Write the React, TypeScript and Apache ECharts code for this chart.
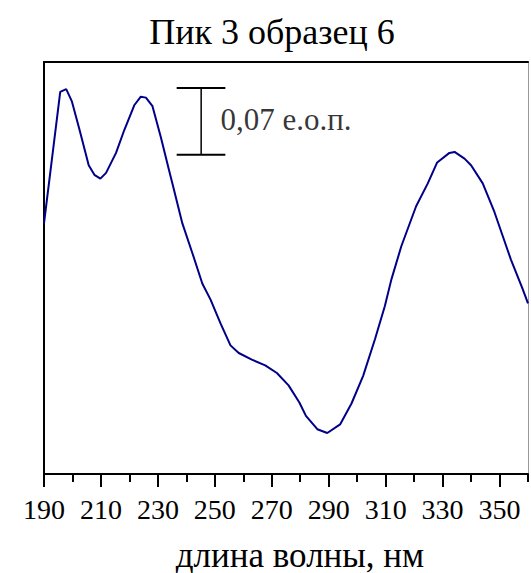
import React, { useEffect, useRef } from "react";
import * as echarts from "echarts";

const TITLE = "Пик 3 образец 6";
const X_NAME = "длина волны, нм";
const SCALE_TEXT = "0,07 е.о.п.";

const WAVELENGTH = [190, 195.7, 197.8, 199.8, 202.5, 205.7, 207.7, 209.8, 211.8, 215.3, 218.2, 221.7, 224.0, 225.8, 228.1, 231.0, 233.9, 235.1, 238.6, 242.1, 245.6, 248.5, 252.0, 255.5, 258.4, 263.0, 267.7, 271.8, 275.9, 279.7, 282.0, 286.0, 289.5, 294.0, 298.0, 302.1, 306.3, 309.7, 312.0, 315.5, 320.7, 324.8, 328.1, 332.4, 334.2, 337.7, 340.0, 344.1, 348.2, 354.0, 358.0, 360];
const ABSORBANCE = [0.263, 0.401, 0.404, 0.391, 0.361, 0.324, 0.314, 0.310, 0.316, 0.337, 0.361, 0.387, 0.396, 0.395, 0.386, 0.354, 0.319, 0.305, 0.263, 0.232, 0.200, 0.183, 0.158, 0.135, 0.127, 0.120, 0.114, 0.106, 0.093, 0.075, 0.061, 0.047, 0.043, 0.052, 0.074, 0.103, 0.142, 0.176, 0.204, 0.239, 0.281, 0.305, 0.327, 0.337, 0.338, 0.331, 0.324, 0.305, 0.275, 0.225, 0.195, 0.179];

const MAJOR_TICKS = [190, 210, 230, 250, 270, 290, 310, 330, 350];

const X_MIN = 190;
const X_MAX = 360;
const X_STEP = 10;
const Y_MIN = 0;
const Y_MAX = 0.4324;

// scale bar (0.07 units)
const SCALE_X = 245.2;
const SCALE_LOW = 0.335;
const SCALE_HIGH = 0.405;
const CAP_X0 = 236.6;
const CAP_X1 = 253.7;
const SCALE_LABEL_X = 252.0;
const SCALE_LABEL_Y = 0.372;

const FONT = "'Liberation Serif', 'Times New Roman', serif";

export default function App() {
  const ref = useRef<HTMLDivElement>(null);

  useEffect(() => {
    document.body.style.margin = "0";
    if (!ref.current) return;
    const chart = echarts.init(ref.current, undefined, { renderer: "svg" });
    const curve = WAVELENGTH.map((w, i) => [w, ABSORBANCE[i]]);
    const hidden = { show: false };
    chart.setOption({
      animation: false,
      backgroundColor: "#fff",
      grid: { left: 44, top: 62, right: 1, bottom: 99, show: false },
      xAxis: [
        {
          type: "value",
          min: X_MIN,
          max: X_MAX,
          interval: X_STEP,
          position: "bottom",
          axisLine: { show: true, onZero: false, lineStyle: { color: "#000", width: 2 } },
          axisTick: { show: true, inside: false, length: 8, lineStyle: { color: "#000", width: 2 } },
          axisLabel: {
            show: true,
            margin: 21,
            fontFamily: FONT,
            fontSize: 28,
            color: "#000",
            formatter: (v: number) => (MAJOR_TICKS.indexOf(v) >= 0 ? String(v) : ""),
          },
          splitLine: hidden,
        },
        {
          type: "value",
          min: X_MIN,
          max: X_MAX,
          interval: X_STEP,
          position: "bottom",
          axisLine: { show: false, onZero: false },
          axisTick: { show: true, inside: false, customValues: MAJOR_TICKS, length: 13, lineStyle: { color: "#000", width: 2 } },
          axisLabel: hidden,
          splitLine: hidden,
        },
        {
          type: "value",
          min: X_MIN,
          max: X_MAX,
          position: "top",
          axisLine: { show: true, onZero: false, lineStyle: { color: "#000", width: 2 } },
          axisTick: hidden,
          axisLabel: hidden,
          splitLine: hidden,
        },
      ],
      yAxis: [
        {
          type: "value",
          min: Y_MIN,
          max: Y_MAX,
          position: "left",
          axisLine: { show: true, onZero: false, lineStyle: { color: "#000", width: 2 } },
          axisTick: hidden,
          axisLabel: hidden,
          splitLine: hidden,
        },
        {
          type: "value",
          min: Y_MIN,
          max: Y_MAX,
          position: "right",
          axisLine: { show: true, onZero: false, lineStyle: { color: "#999", width: 1 } },
          axisTick: hidden,
          axisLabel: hidden,
          splitLine: hidden,
        },
      ],
      series: [
        {
          type: "line",
          data: curve,
          showSymbol: false,
          symbol: "none",
          lineStyle: { color: "#000088", width: 2 },
          z: 3,
        },
        {
          type: "line",
          data: [[SCALE_X, SCALE_LOW], [SCALE_X, SCALE_HIGH]],
          symbol: "none",
          lineStyle: { color: "#000", width: 1.5 },
        },
        {
          type: "line",
          data: [[CAP_X0, SCALE_HIGH], [CAP_X1, SCALE_HIGH]],
          symbol: "none",
          lineStyle: { color: "#000", width: 2 },
        },
        {
          type: "line",
          data: [[CAP_X0, SCALE_LOW], [CAP_X1, SCALE_LOW]],
          symbol: "none",
          lineStyle: { color: "#000", width: 2 },
        },
        {
          type: "scatter",
          data: [[SCALE_LABEL_X, SCALE_LABEL_Y]],
          symbolSize: 0,
          label: {
            show: true,
            formatter: SCALE_TEXT,
            position: [0, 0],
            align: "left",
            verticalAlign: "middle",
            fontFamily: FONT,
            fontSize: 31,
            color: "#000",
          },
        },
      ],
      graphic: [
        {
          type: "text",
          x: 272,
          y: 32,
          style: { text: TITLE, fontFamily: FONT, fontSize: 36, fill: "#000", align: "center", verticalAlign: "middle" },
        },
        {
          type: "text",
          x: 300,
          y: 555,
          style: { text: X_NAME, fontFamily: FONT, fontSize: 35, fill: "#000", align: "center", verticalAlign: "middle" },
        },
      ],
    });
    return () => chart.dispose();
  }, []);

  return <div ref={ref} style={{ width: 531, height: 573 }} />;
}
